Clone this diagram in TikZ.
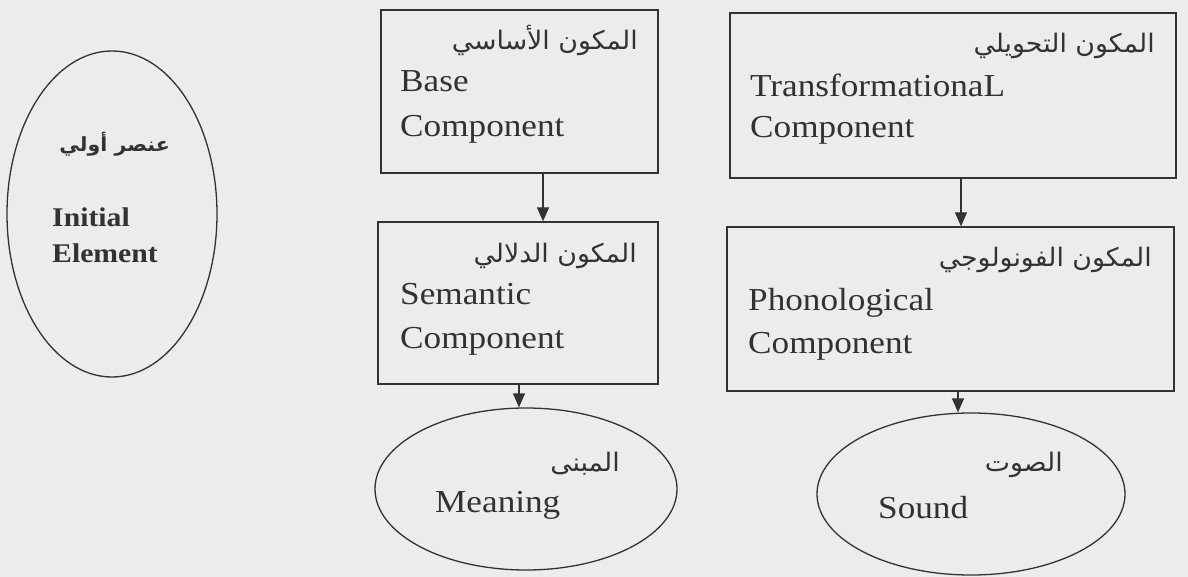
\documentclass[tikz,border=0pt]{standalone}
\usepackage{fontspec}
\setmainfont{Liberation Serif}[FakeStretch=1.1]
\newfontfamily\arabicfont[Script=Arabic,FakeStretch=1.05]{DejaVu Sans}
\TeXXeTstate=1
\usetikzlibrary{arrows.meta,shapes.geometric}
\definecolor{paper}{RGB}{236,236,236}
\definecolor{ink}{RGB}{50,50,50}
\tikzset{
  box/.style={draw=ink,line width=1.3pt,rectangle,inner sep=0pt},
  oval/.style={draw=ink,line width=1.3pt,ellipse,inner sep=0pt},
  arr/.style={draw=ink,line width=1.3pt,-{Triangle[length=14pt,width=12pt]}},
  en/.style={text=ink,inner sep=0pt,anchor=base west,font=\fontsize{32}{38}\selectfont},
  enb/.style={text=ink,inner sep=0pt,anchor=base west,font=\fontsize{27}{32}\selectfont\bfseries},
  ar/.style={text=ink,inner sep=0pt,anchor=base east,font=\fontsize{25.5}{30}\selectfont\arabicfont},
  arb/.style={text=ink,inner sep=0pt,anchor=base east,font=\fontsize{19.5}{26}\selectfont\arabicfont\bfseries}
}
\begin{document}
\begin{tikzpicture}[x=1pt,y=-1pt]
\fill[paper] (0,0) rectangle (1188,577);
\useasboundingbox (0,0) rectangle (1188,577);

% Initial element
\node[oval,minimum width=210pt,minimum height=326pt] (init) at (112,214) {};
\node[arb] (initar) at (170,152) {\beginR عنصر أولي\endR};
\node[enb] (initen1) at (52,227) {Initial};
\node[enb] (initen2) at (52,262) {Element};

% Boxes
\node[box,minimum width=277pt,minimum height=163pt] (base) at (519.5,91.5) {};
\node[box,minimum width=280pt,minimum height=162pt] (sem) at (518,303) {};
\node[box,minimum width=446pt,minimum height=165pt] (trans) at (953,95.5) {};
\node[box,minimum width=447pt,minimum height=164pt] (phon) at (950.5,309) {};

% Ellipses
\node[oval,minimum width=302pt,minimum height=162pt] (mean) at (526,489) {};
\node[oval,minimum width=308pt,minimum height=162pt] (sound) at (971,494) {};

% Texts
\node[ar] (basear) at (638,50) {\beginR المكون الأساسي\endR};
\node[en] (baseen1) at (400,92) {Base};
\node[en] (baseen2) at (400,137) {Component};

\node[ar] (semar) at (637,262) {\beginR المكون الدلالي\endR};
\node[en] (semen1) at (400,305) {Semantic};
\node[en] (semen2) at (400,348) {Component};

\node[ar] (transar) at (1155,53) {\beginR المكون التحويلي\endR};
\node[en] (transen1) at (750,97) {TransformationaL};
\node[en] (transen2) at (750,138) {Component};

\node[ar] (phonar) at (1152,267) {\beginR المكون الفونولوجي\endR};
\node[en] (phonen1) at (748,310) {Phonological};
\node[en] (phonen2) at (748,353) {Component};

\node[ar] (meanar) at (620,471) {\beginR المبنى\endR};
\node[en] (meanen) at (435,512) {Meaning};

\node[ar] (soundar) at (1063,471) {\beginR الصوت\endR};
\node[en] (sounden) at (878,518) {Sound};

% Arrows
\draw[arr] ([xshift=23.5pt]base.south) -- ([xshift=25pt]sem.north);
\draw[arr] ([xshift=1pt]sem.south) -- ([xshift=-7pt]mean.north);
\draw[arr] ([xshift=8pt]trans.south) -- ([xshift=10.5pt]phon.north);
\draw[arr] ([xshift=7.5pt]phon.south) -- ([xshift=-13pt]sound.north);
\end{tikzpicture}
\end{document}
